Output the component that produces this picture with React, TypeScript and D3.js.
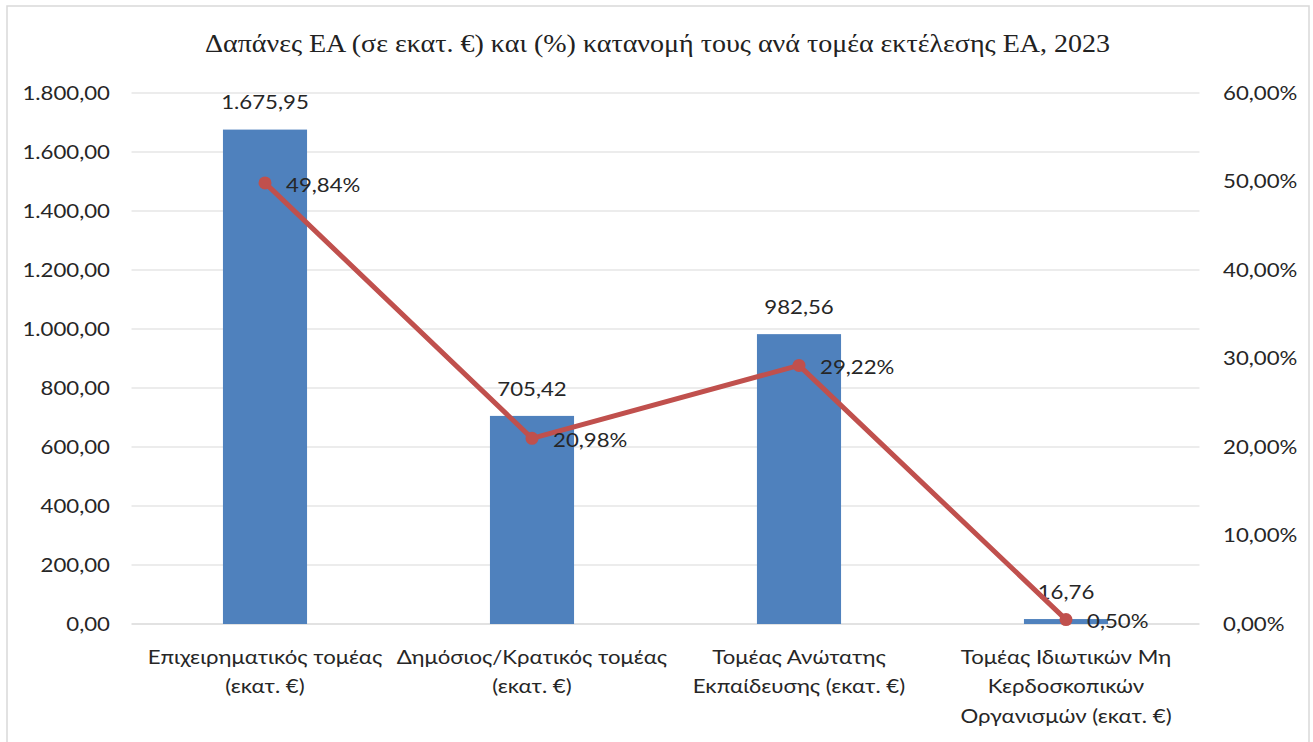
import React from "react";
import * as d3 from "d3";

const categories: string[][] = [
  ["Επιχειρηματικός τομέας", "(εκατ. €)"],
  ["Δημόσιος/Κρατικός τομέας", "(εκατ. €)"],
  ["Τομέας Ανώτατης", "Εκπαίδευσης (εκατ. €)"],
  ["Τομέας Ιδιωτικών Μη", "Κερδοσκοπικών", "Οργανισμών (εκατ. €)"],
];
const spending: number[] = [1675.95, 705.42, 982.56, 16.76];
const shares: number[] = [49.84, 20.98, 29.22, 0.5];
const leftTicks: number[] = [0, 200, 400, 600, 800, 1000, 1200, 1400, 1600, 1800];
const rightTicks: number[] = [0, 10, 20, 30, 40, 50, 60];
const title = "Δαπάνες ΕΑ (σε εκατ. €) και (%) κατανομή τους ανά τομέα εκτέλεσης ΕΑ, 2023";

const W = 1313;
const H = 742;
const plotLeft = 131.5;
const plotRight = 1199.5;
const plotTop = 93;
const plotBottom = 624;
const FONT = "Lato, 'Open Sans', sans-serif";
const FS = 19;
const SX = 1.17;

const fmtNum = (v: number) => {
  const s = v.toFixed(2);
  const [i, d] = s.split(".");
  const ii = i.replace(/\B(?=(\d{3})+(?!\d))/g, ".");
  return ii + "," + d;
};
const fmtPct = (v: number) => v.toFixed(2).replace(".", ",") + "%";

function Txt(props: { x: number; y: number; anchor: "start" | "middle" | "end"; children: React.ReactNode }) {
  return (
    <text
      transform={`translate(${props.x},${props.y}) scale(${SX},1)`}
      dy="0.35em"
      textAnchor={props.anchor}
      fontFamily={FONT}
      fontSize={FS}
      fill="#262626"
    >
      {props.children}
    </text>
  );
}

export default function App() {
  const idx = categories.map((_, i) => String(i));
  const x = d3.scaleBand<string>().domain(idx).range([plotLeft, plotRight]).paddingInner(0).paddingOuter(0);
  const yL = d3.scaleLinear().domain([0, 1800]).range([plotBottom, plotTop]);
  const yR = d3.scaleLinear().domain([0, 60]).range([plotBottom, plotTop]);
  const bw = x.bandwidth() * 0.315;
  const cx = (i: number) => (x(String(i)) as number) + x.bandwidth() / 2;

  const line = d3
    .line<number>()
    .x((_, i) => cx(i))
    .y((d) => yR(d));

  return (
    <svg
      width={W}
      height={H}
      style={{ position: "absolute", left: 0, top: 0, background: "#fff" }}
    >
      <rect x={7} y={6} width={1302} height={760} fill="#fff" stroke="#d9d9d9" strokeWidth={1.5} />
      <text
        x={657.5}
        y={52}
        textAnchor="middle"
        fontFamily="'Liberation Serif', 'Times New Roman', serif"
        fontSize={25}
        fill="#222"
        textLength={905}
        lengthAdjust="spacingAndGlyphs"
      >
        {title}
      </text>
      {leftTicks.map((t) => (
        <g key={"l" + t}>
          <line x1={plotLeft} x2={plotRight} y1={yL(t)} y2={yL(t)} stroke="#d9d9d9" strokeWidth={t === 0 ? 1.5 : 1.2} />
          <Txt x={110} y={yL(t)} anchor="end">
            {fmtNum(t)}
          </Txt>
        </g>
      ))}
      {rightTicks.map((t) => (
        <Txt key={"r" + t} x={1223} y={yR(t)} anchor="start">
          {fmtPct(t)}
        </Txt>
      ))}
      {spending.map((v, i) => (
        <rect key={"b" + i} x={cx(i) - bw / 2} y={yL(v)} width={bw} height={plotBottom - yL(v)} fill="#4f81bd" />
      ))}
      {spending.map((v, i) => (
        <Txt key={"bl" + i} x={cx(i)} y={yL(v) - 27} anchor="middle">
          {fmtNum(v)}
        </Txt>
      ))}
      <path d={line(shares) || ""} fill="none" stroke="#c0504d" strokeWidth={5} strokeLinejoin="round" />
      {shares.map((v, i) => (
        <circle key={"m" + i} cx={cx(i)} cy={yR(v)} r={6.5} fill="#c0504d" />
      ))}
      {shares.map((v, i) => (
        <Txt key={"pl" + i} x={cx(i) + 21} y={yR(v) + 2} anchor="start">
          {fmtPct(v)}
        </Txt>
      ))}
      {categories.map((lines, i) => (
        <g key={"c" + i}>
          {lines.map((l, j) => (
            <Txt key={j} x={cx(i)} y={657 + j * 29.5} anchor="middle">
              {l}
            </Txt>
          ))}
        </g>
      ))}
    </svg>
  );
}
